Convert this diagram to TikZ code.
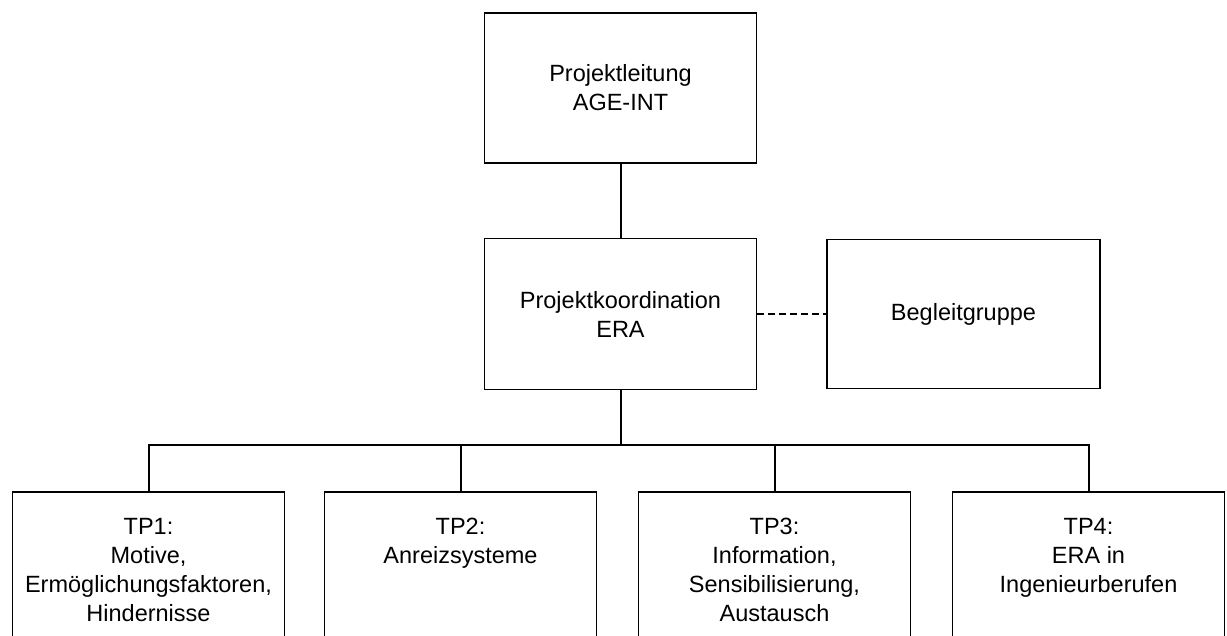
\documentclass[tikz,border=0pt]{standalone}
\usepackage{fontspec}
\setmainfont{Liberation Sans}
\begin{document}
\begin{tikzpicture}[x=1pt,y=-1pt,
  orgbox/.style={draw=black, line width=1.8pt, fill=white, inner sep=0pt,
    minimum width=272pt, align=center},
  tpbox/.style={orgbox, anchor=north, minimum height=175pt},
  tptext/.style={anchor=north, inner sep=0pt, align=center},
  link/.style={draw=black, line width=2pt},
  font=\fontsize{23.5}{29}\selectfont]

  % page frame
  \useasboundingbox (0,0) rectangle (1227,636);
  \clip (0,0) rectangle (1227,636);

  % upper levels
  \node[orgbox, minimum height=150pt] (lead)  at (620.5,88)  {Projektleitung\\AGE-INT};
  \node[orgbox, minimum height=151pt] (coord) at (620.5,314) {Projektkoordination\\ERA};
  \node[orgbox, minimum height=149pt, minimum width=273pt] (group) at (963.5,314) {Begleitgruppe};

  % sub-projects (boxes run past the lower edge)
  \node[tpbox] (tp1) at (148.5,491) {};
  \node[tpbox] (tp2) at (460.5,491) {};
  \node[tpbox] (tp3) at (774.5,491) {};
  \node[tpbox] (tp4) at (1088.5,491) {};

  \node[tptext] (t1) at ([yshift=-27pt]tp1.north) {TP1:\\Motive,\\Ermöglichungsfaktoren,\\Hindernisse};
  \node[tptext] (t2) at ([yshift=-27pt]tp2.north) {TP2:\\Anreizsysteme};
  \node[tptext] (t3) at ([yshift=-27pt]tp3.north) {TP3:\\Information,\\Sensibilisierung,\\Austausch};
  \node[tptext] (t4) at ([yshift=-27pt]tp4.north) {TP4:\\ERA in\\Ingenieurberufen};

  % connectors
  \coordinate (bus) at (620.5,445);
  \draw[link] (lead.south) -- (coord.north);
  \draw[link] (coord.south) -- (bus);
  \draw[link] (tp1.north) |- (bus) -| (tp4.north);
  \draw[link] (tp2.north) -- (tp2.north |- bus);
  \draw[link] (tp3.north) -- (tp3.north |- bus);
  \draw[draw=black, line width=1.8pt, dash pattern=on 7pt off 4pt]
    (coord.east) -- (group.west);
\end{tikzpicture}
\end{document}
